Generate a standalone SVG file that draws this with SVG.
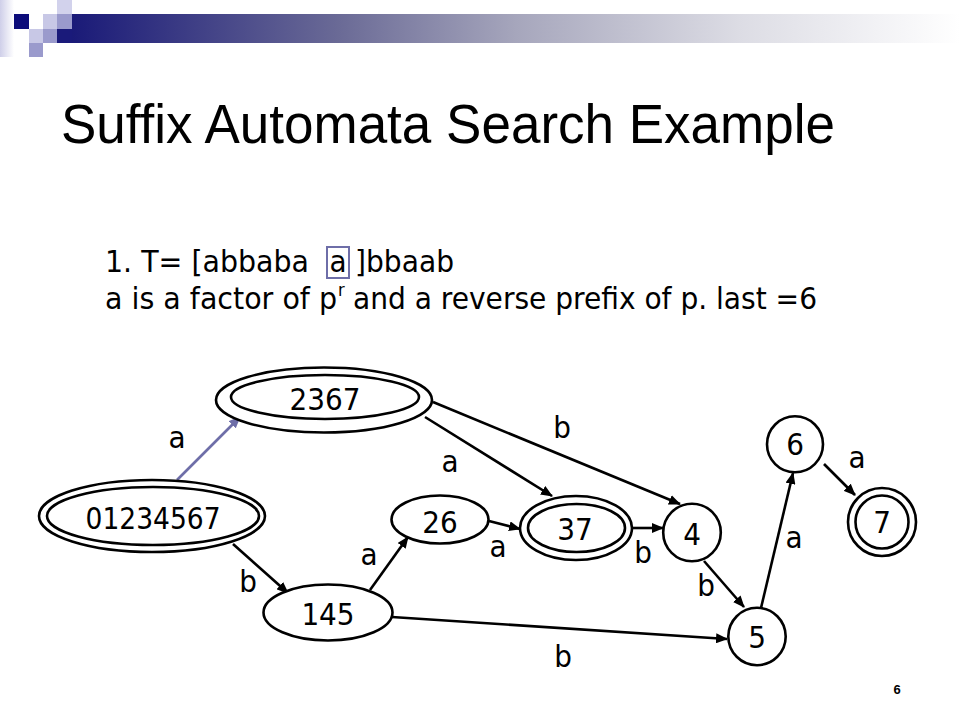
<svg xmlns="http://www.w3.org/2000/svg" width="960" height="720" viewBox="0 0 960 720">
<defs>
<linearGradient id="bar" x1="0" y1="0" x2="1" y2="0">
<stop offset="0" stop-color="#1a1a78"/>
<stop offset="0.3" stop-color="#6a6a96"/>
<stop offset="0.5" stop-color="#a6a6bc"/>
<stop offset="0.75" stop-color="#dcdce4"/>
<stop offset="1" stop-color="#ffffff"/>
</linearGradient>
<linearGradient id="strip" x1="0" y1="0" x2="1" y2="0">
<stop offset="0" stop-color="#cfcfe9"/>
<stop offset="1" stop-color="#ffffff"/>
</linearGradient>
<marker id="ah" markerUnits="userSpaceOnUse" markerWidth="12" markerHeight="10" refX="11" refY="5" orient="auto">
<path d="M0,0 L12,5 L0,10 z" fill="#000"/>
</marker>
<marker id="ahl" markerUnits="userSpaceOnUse" markerWidth="12" markerHeight="10" refX="11" refY="5" orient="auto">
<path d="M0,0 L12,5 L0,10 z" fill="#6e6ea8"/>
</marker>
</defs>
<style>
.n{fill:#fff;stroke:#000;stroke-width:2.6}
.lbl{font-family:"DejaVu Sans Condensed","DejaVu Sans",sans-serif;font-size:31px;fill:#000;text-anchor:middle}
.e{fill:none;stroke:#000;stroke-width:2.6;marker-end:url(#ah)}
.txt{font-family:"DejaVu Sans Condensed","DejaVu Sans",sans-serif;font-size:31px;fill:#000}
.sup{font-family:"DejaVu Sans Condensed","DejaVu Sans",sans-serif;font-size:18px;fill:#000}
</style>
<g id="decor">
<rect x="0" y="0" width="14" height="57" fill="url(#strip)"/>
<rect x="72" y="14" width="888" height="29" fill="url(#bar)"/>
<rect x="14" y="14" width="15" height="15" fill="#0c0c7a"/>
<rect x="43" y="14" width="14" height="15" fill="#c8c8e6"/>
<rect x="57" y="14" width="15" height="15" fill="#9a9acc"/>
<rect x="57" y="0" width="15" height="14" fill="#d2d2ec"/>
<rect x="57" y="29" width="15" height="14" fill="#1a1a7a"/>
<rect x="29" y="29" width="14" height="14" fill="#c8c8e6"/>
<rect x="43" y="29" width="14" height="14" fill="#9a9acc"/>
<rect x="29" y="43" width="14" height="14" fill="#9a9acc"/>
</g>
<text x="61" y="143" font-family="'Liberation Sans',Arial,sans-serif" font-size="56" textLength="774" lengthAdjust="spacingAndGlyphs">Suffix Automata Search Example</text>
<g id="desc">
<text class="txt" x="105" y="272" textLength="204" lengthAdjust="spacingAndGlyphs">1. T= [abbaba</text>
<rect x="327" y="247" width="22" height="31" fill="none" stroke="#6e6ea8" stroke-width="2"/>
<text class="txt" x="338" y="272" text-anchor="middle">a</text>
<text class="txt" x="355" y="272" textLength="99" lengthAdjust="spacingAndGlyphs">]bbaab</text>
<text class="txt" x="105" y="309" textLength="232" lengthAdjust="spacingAndGlyphs">a is a factor of p</text>
<text class="sup" x="338" y="296">r</text>
<text class="txt" x="353" y="309" textLength="464" lengthAdjust="spacingAndGlyphs">and a reverse prefix of p. last =6</text>
</g>
<g id="connectors">
<line x1="177" y1="480" x2="240" y2="417" fill="none" stroke="#6e6ea8" stroke-width="2.6" marker-end="url(#ahl)"/>
<line class="e" x1="233" y1="544" x2="288" y2="593"/>
<line class="e" x1="370" y1="590" x2="408" y2="537"/>
<line class="e" x1="392" y1="617" x2="727" y2="639"/>
<line class="e" x1="425" y1="417" x2="552" y2="496"/>
<line class="e" x1="433" y1="402" x2="680" y2="504"/>
<line class="e" x1="489" y1="521" x2="520" y2="529"/>
<line class="e" x1="632" y1="528" x2="663" y2="528"/>
<line class="e" x1="704" y1="561" x2="744" y2="607"/>
<line class="e" x1="761" y1="608" x2="793" y2="473"/>
<line class="e" x1="824" y1="464" x2="855" y2="495"/>
<text class="lbl" x="177" y="448">a</text>
<text class="lbl" x="248" y="592">b</text>
<text class="lbl" x="369" y="565">a</text>
<text class="lbl" x="563" y="667">b</text>
<text class="lbl" x="450" y="472">a</text>
<text class="lbl" x="562" y="438">b</text>
<text class="lbl" x="498" y="557">a</text>
<text class="lbl" x="643" y="563">b</text>
<text class="lbl" x="706" y="596">b</text>
<text class="lbl" x="794" y="548">a</text>
<text class="lbl" x="857" y="468">a</text>
</g>
<g id="node-0">
<ellipse class="n" cx="152" cy="516" rx="113" ry="36"/>
<ellipse class="n" cx="153" cy="516" rx="106" ry="29"/>
<text class="lbl" x="153" y="529" textLength="135" lengthAdjust="spacingAndGlyphs">01234567</text>
</g>
<g id="node-2367">
<ellipse class="n" cx="324" cy="400" rx="108" ry="32.5"/>
<ellipse class="n" cx="325" cy="397" rx="94" ry="22"/>
<text class="lbl" x="325" y="410">2367</text>
</g>
<g id="node-145">
<ellipse class="n" cx="328" cy="612.5" rx="64.5" ry="28"/>
<text class="lbl" x="328" y="625">145</text>
</g>
<g id="node-26">
<ellipse class="n" cx="440" cy="519.5" rx="48.5" ry="24"/>
<text class="lbl" x="440" y="533">26</text>
</g>
<g id="node-37">
<ellipse class="n" cx="576" cy="528" rx="56" ry="32"/>
<ellipse class="n" cx="576.5" cy="528" rx="48.5" ry="24"/>
<text class="lbl" x="575" y="540">37</text>
</g>
<g id="node-4">
<circle class="n" cx="692" cy="532.5" r="28.8"/>
<text class="lbl" x="692" y="545">4</text>
</g>
<g id="node-5">
<circle class="n" cx="757" cy="636.5" r="28.7"/>
<text class="lbl" x="757" y="648">5</text>
</g>
<g id="node-6">
<circle class="n" cx="795" cy="444.3" r="28"/>
<text class="lbl" x="795" y="455">6</text>
</g>
<g id="node-7">
<circle class="n" cx="882" cy="522" r="34"/>
<circle class="n" cx="882" cy="522" r="26.5"/>
<text class="lbl" x="882" y="533">7</text>
</g>
<text x="897" y="694" font-family="'Liberation Sans',Arial,sans-serif" font-size="13" font-weight="bold" text-anchor="middle">6</text>
</svg>
